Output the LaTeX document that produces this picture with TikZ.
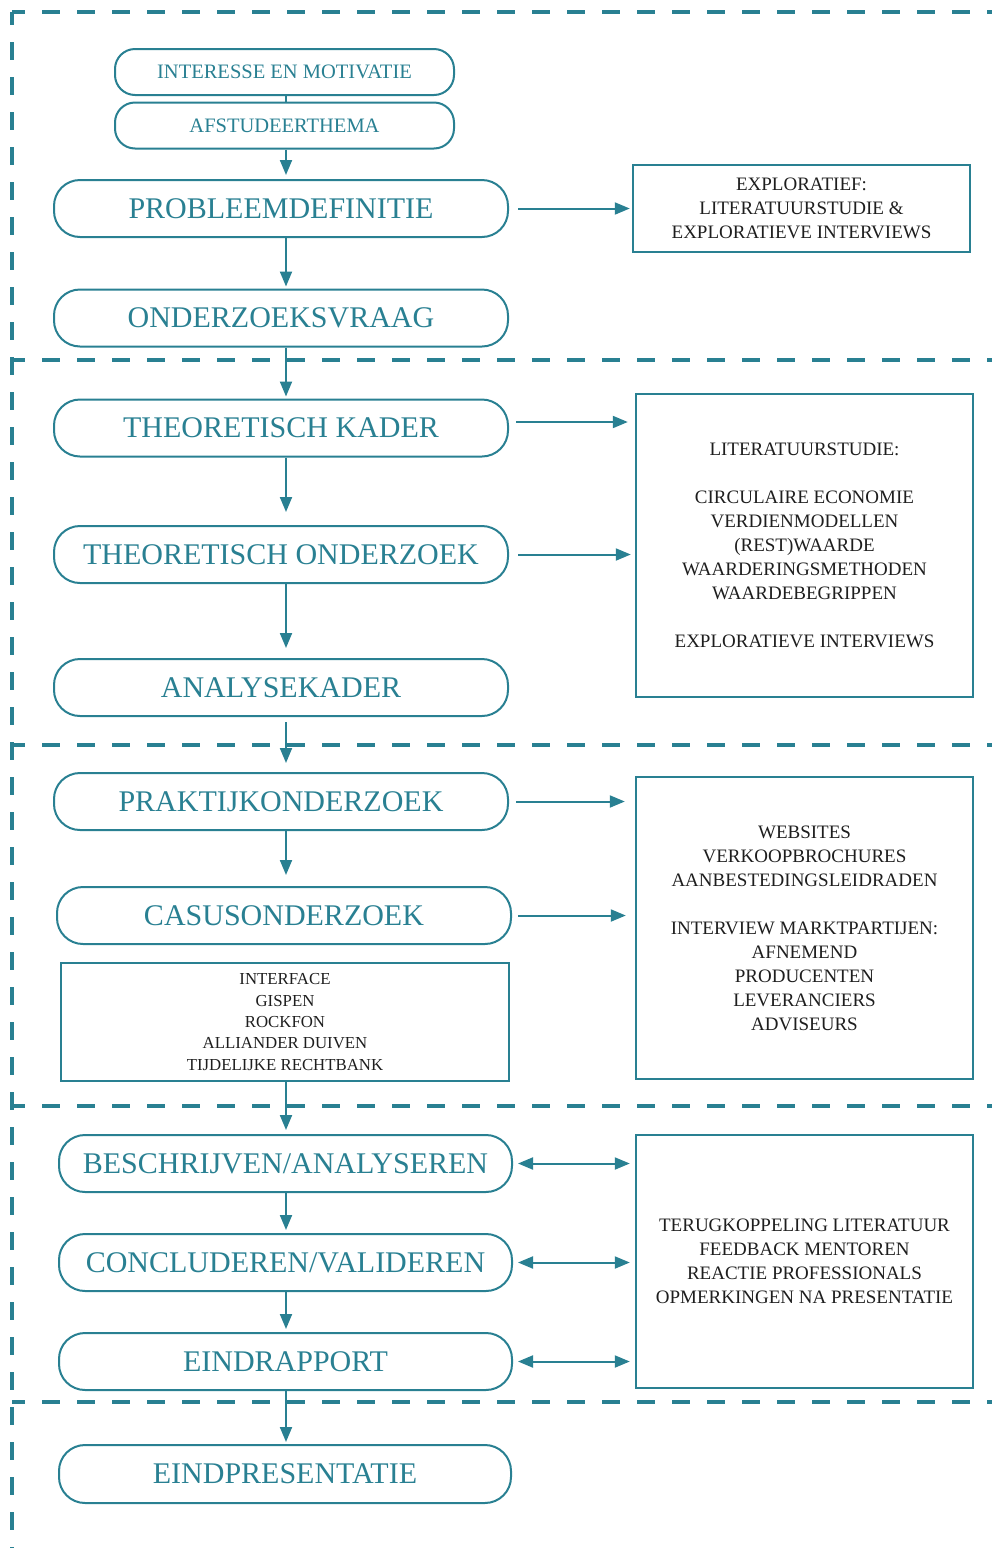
\documentclass[tikz,border=0pt]{standalone}
\usepackage{fontspec}
\setmainfont{Liberation Serif}
\usetikzlibrary{arrows.meta,calc}
\definecolor{petrol}{RGB}{41,128,146}
\definecolor{inktext}{RGB}{30,30,30}

\begin{document}
\begin{tikzpicture}[x=1pt,y=-1pt,
  stage/.style={draw=petrol, line width=2pt, rounded corners=26pt, text=petrol,
    font=\fontsize{30}{36}\selectfont, minimum height=57pt, minimum width=454pt,
    inner sep=0pt},
  smallstage/.style={stage, font=\fontsize{20.5}{25}\selectfont,
    minimum height=46pt, minimum width=339pt, rounded corners=20pt},
  infobox/.style={draw=petrol, line width=2.4pt, align=center, text=inktext,
    font=\fontsize{19}{24}\selectfont, inner sep=0pt},
  arr/.style={draw=petrol, line width=2pt, -{Triangle[length=15pt,width=12pt]}},
  darr/.style={draw=petrol, line width=2pt,
    {Triangle[length=15pt,width=12pt]}-{Triangle[length=15pt,width=12pt]}},
  phase/.style={draw=petrol, line width=4.8pt, dash pattern=on 18pt off 17pt,
    dash phase=5pt}
]
\useasboundingbox (0,0) rectangle (992,1548);

% phase frame: left edge, top edge and separators
\coordinate (frameTL) at (12,12);
\coordinate (frameBL) at (12,1548);
\draw[phase] (frameTL) -- (frameBL);
\foreach \yy in {12,360,745,1106,1402}{
  \draw[phase] (12,\yy) -- (992,\yy);
}

% main column
\coordinate (spine) at (286,0);
\node[smallstage] (interesse) at (284.5,72)   {INTERESSE EN MOTIVATIE};
\node[smallstage] (afstudeer) at (284.5,125.5) {AFSTUDEERTHEMA};
\node[stage] (probleem)    at (281,208.5)  {PROBLEEMDEFINITIE};
\node[stage] (vraag)       at (281,318)    {ONDERZOEKSVRAAG};
\node[stage] (kader)       at (281,428)    {THEORETISCH KADER};
\node[stage] (tonderzoek)  at (281,554.5)  {THEORETISCH ONDERZOEK};
\node[stage] (analyse)     at (281,687.5)  {ANALYSEKADER};
\node[stage] (praktijk)    at (281,801.5)  {PRAKTIJKONDERZOEK};
\node[stage] (casus)       at (284,915.5)  {CASUSONDERZOEK};
\node[draw=petrol, line width=2.2pt, minimum width=448pt, minimum height=118pt,
      align=center, text=inktext, font=\fontsize{16.8}{21.3}\selectfont, inner sep=0pt]
      (cases) at (285,1022)
      {INTERFACE\\GISPEN\\ROCKFON\\ALLIANDER DUIVEN\\TIJDELIJKE RECHTBANK};
\node[stage, minimum width=453pt] (beschrijven) at (285.5,1163.5) {BESCHRIJVEN/ANALYSEREN};
\node[stage, minimum width=453pt] (concluderen) at (285.5,1262.5) {CONCLUDEREN/VALIDEREN};
\node[stage, minimum width=453pt] (eindrapport) at (285.5,1361.5) {EINDRAPPORT};
\node[stage, minimum width=452pt, minimum height=58pt] (eindpres) at (285,1474) {EINDPRESENTATIE};

% side boxes
\node[infobox, minimum width=337pt, minimum height=87pt] (expl) at (801.5,208.5)
  {EXPLORATIEF:\\LITERATUURSTUDIE \&\\EXPLORATIEVE INTERVIEWS};
\node[infobox, minimum width=337pt, minimum height=303pt] (lit) at (804.5,545.5)
  {LITERATUURSTUDIE:\\[24pt]CIRCULAIRE ECONOMIE\\VERDIENMODELLEN\\(REST)WAARDE\\
   WAARDERINGSMETHODEN\\WAARDEBEGRIPPEN\\[24pt]EXPLORATIEVE INTERVIEWS};
\node[infobox, minimum width=337pt, minimum height=302pt] (web) at (804.5,928)
  {WEBSITES\\VERKOOPBROCHURES\\AANBESTEDINGSLEIDRADEN\\[24pt]
   INTERVIEW MARKTPARTIJEN:\\AFNEMEND\\PRODUCENTEN\\LEVERANCIERS\\ADVISEURS};
\node[infobox, minimum width=337pt, minimum height=253pt] (terug) at (804.5,1261.5)
  {TERUGKOPPELING LITERATUUR\\FEEDBACK MENTOREN\\REACTIE PROFESSIONALS\\
   OPMERKINGEN NA PRESENTATIE};

% vertical flow
\draw[draw=petrol, line width=2pt] (interesse.south -| spine) -- (afstudeer.north -| spine);
\draw[arr, shorten >=4pt]  (afstudeer.south -| spine)   -- (probleem.north -| spine);
\draw[arr, shorten >=2pt]  (probleem.south -| spine)    -- (vraag.north -| spine);
\draw[arr, shorten >=2pt]  (vraag.south -| spine)       -- (kader.north -| spine);
\draw[arr, shorten >=13pt] (kader.south -| spine)       -- (tonderzoek.north -| spine);
\draw[arr, shorten >=10pt] (tonderzoek.south -| spine)  -- (analyse.north -| spine);
\draw[arr, shorten <=5pt, shorten >=9pt] (analyse.south -| spine) -- (praktijk.north -| spine);
\draw[arr, shorten >=11pt] (praktijk.south -| spine)    -- (casus.north -| spine);
\draw[arr, shorten >=4pt]  (cases.south -| spine)       -- (beschrijven.north -| spine);
\draw[arr, shorten >=3pt]  (beschrijven.south -| spine) -- (concluderen.north -| spine);
\draw[arr, shorten >=3pt]  (concluderen.south -| spine) -- (eindrapport.north -| spine);
\draw[arr, shorten >=2pt]  (eindrapport.south -| spine) -- (eindpres.north -| spine);

% links to the side boxes
\draw[arr, shorten <=9pt, shorten >=2pt] (probleem.east) -- (probleem.east -| expl.west);
\draw[arr, shorten <=7pt, shorten >=7pt]
  ($(kader.east)+(0,-6)$) -- ($(kader.east -| lit.west)+(0,-6)$);
\draw[arr, shorten <=9pt, shorten >=4pt] (tonderzoek.east) -- (tonderzoek.east -| lit.west);
\draw[arr, shorten <=7pt, shorten >=10pt] (praktijk.east) -- (praktijk.east -| web.west);
\draw[arr, shorten <=6pt, shorten >=9pt] (casus.east) -- (casus.east -| web.west);
\draw[darr, shorten <=5pt, shorten >=5pt] (beschrijven.east) -- (beschrijven.east -| terug.west);
\draw[darr, shorten <=5pt, shorten >=5pt] (concluderen.east) -- (concluderen.east -| terug.west);
\draw[darr, shorten <=5pt, shorten >=5pt] (eindrapport.east) -- (eindrapport.east -| terug.west);
\end{tikzpicture}
\end{document}
